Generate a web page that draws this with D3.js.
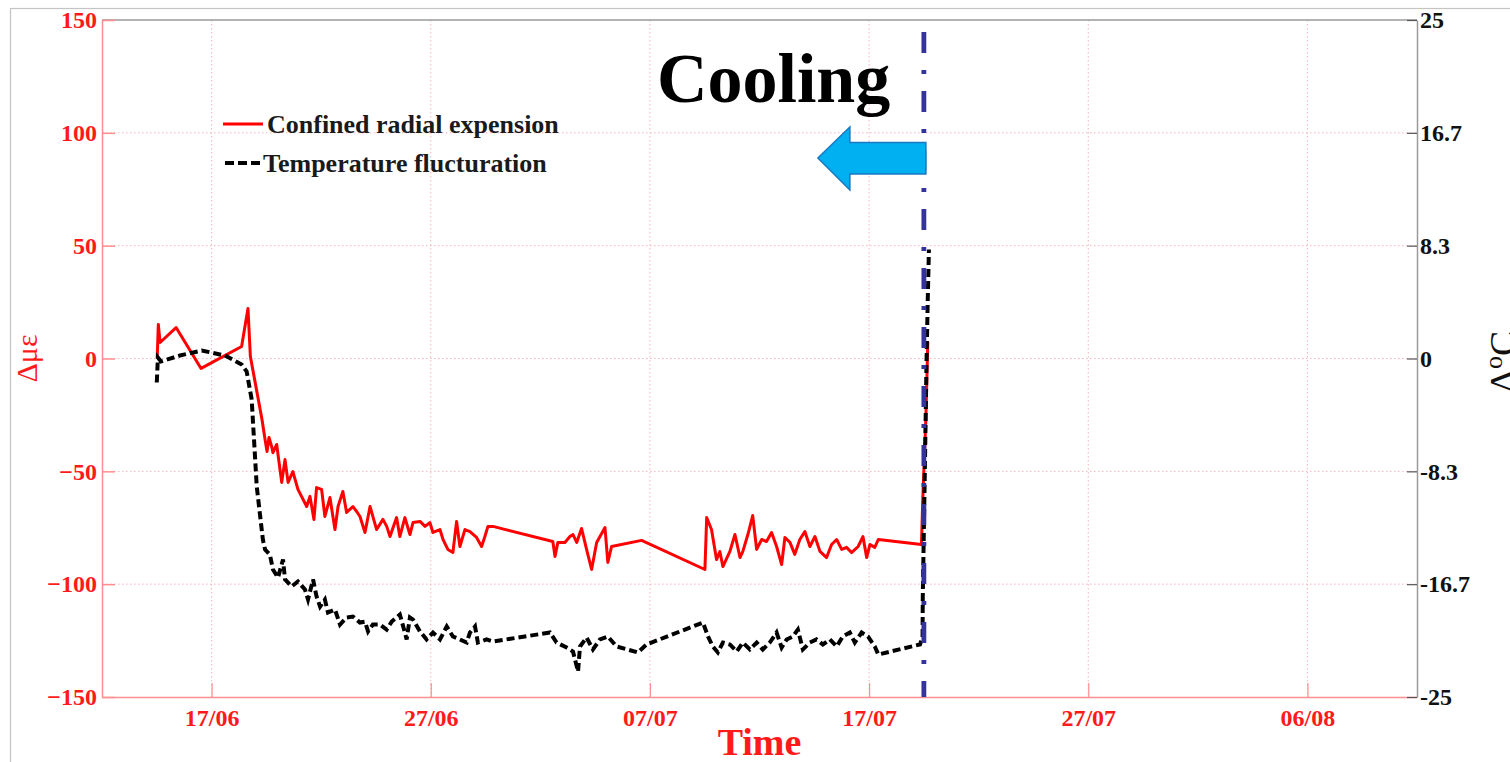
<!DOCTYPE html>
<html>
<head>
<meta charset="utf-8">
<script src="https://cdn.jsdelivr.net/npm/d3@7"></script>
<style>
  html, body { margin: 0; padding: 0; background: #fff; overflow: hidden; }
  svg { display: block; }
</style>
</head>
<body>
<svg id="chart" width="1510" height="762"></svg>
<script>
// Monitoring record: radial strain of the confined specimen and temperature change.
// Time is given in elapsed days since 12 June.
const recordStart = [2019, 5, 12];
const recordEnd = [2019, 7, 11];
const coolingDay = 37.5;

const strainDays = [2.52, 2.57, 2.65, 3.38, 4.52, 6.37, 6.66, 6.77, 7.30, 7.44, 7.53, 7.62, 7.74, 7.80, 7.97,
  8.20, 8.35, 8.49, 8.71, 8.94, 9.34, 9.49, 9.67, 9.79, 10.02, 10.17, 10.40, 10.63, 10.77, 10.99,
  11.16, 11.45, 11.62, 11.77, 12.00, 12.23, 12.53, 12.82, 12.99, 13.14, 13.44, 13.59, 13.82, 14.05,
  14.19, 14.51, 14.74, 14.96, 15.10, 15.42, 15.56, 15.78, 16.01, 16.18, 16.33, 16.56, 16.79, 17.09,
  17.32, 17.47, 17.61, 17.84, 20.57, 20.67, 20.80, 21.12, 21.35, 21.49, 21.66, 21.88, 22.11, 22.34,
  22.57, 22.95, 23.08, 23.25, 24.62, 27.51, 27.59, 27.81, 28.04, 28.19, 28.33, 28.65, 28.88, 29.11,
  29.24, 29.47, 29.69, 29.87, 30.10, 30.32, 30.55, 30.78, 31.01, 31.16, 31.39, 31.61, 31.84, 32.07,
  32.30, 32.53, 32.76, 33.06, 33.29, 33.52, 33.75, 33.97, 34.20, 34.50, 34.72, 34.89, 35.04, 35.26,
  35.42, 37.39, 37.45, 37.59, 37.68];
const strainValues = [0.4, 15.1, 7.1, 13.7, -4.4, 5.3, 22.2, 0.9, -27.0, -35.9, -41.2, -35.0, -39.0, -41.7, -38.1,
  -54.9, -44.8, -54.9, -50.1, -58.0, -65.6, -61.1, -71.3, -57.2, -58.0, -70.0, -61.6, -75.8, -65.6, -58.9,
  -68.2, -65.6, -67.8, -70.0, -77.1, -65.6, -75.8, -71.3, -74.4, -78.9, -70.5, -78.9, -70.5, -78.0,
  -72.7, -72.2, -74.4, -72.7, -77.1, -75.8, -80.2, -84.6, -86.0, -72.2, -83.3, -75.8, -76.7, -79.3,
  -83.3, -78.9, -74.4, -74.4, -81.1, -87.7, -81.5, -81.5, -78.9, -78.0, -81.5, -75.3, -84.6, -93.5,
  -81.5, -74.9, -90.4, -83.3, -80.6, -93.5, -70.5, -75.8, -89.1, -85.5, -92.2, -85.5, -78.0, -88.2,
  -85.5, -78.0, -69.6, -84.6, -80.2, -81.1, -77.1, -83.3, -91.3, -79.3, -81.5, -86.8, -80.2, -76.7,
  -83.3, -78.9, -85.5, -88.2, -82.4, -80.2, -84.6, -83.7, -86.0, -83.3, -78.9, -88.2, -82.4, -83.7,
  -80.2, -82.4, -62.5, -27.0, 7.5];

const tempDays = [2.50, 2.55, 2.69, 3.56, 4.55, 5.61, 6.37, 6.60, 6.83, 7.06, 7.34, 7.44, 7.66, 7.80, 8.03,
  8.26, 8.35, 8.65, 8.94, 9.26, 9.40, 9.63, 9.79, 9.95, 10.17, 10.31, 10.63, 10.86, 11.16, 11.45,
  11.77, 12.00, 12.14, 12.36, 12.68, 12.99, 13.22, 13.59, 13.82, 13.90, 14.05, 14.19, 14.51, 14.81,
  15.10, 15.42, 15.73, 16.01, 16.33, 16.64, 16.79, 17.02, 17.15, 17.55, 17.84, 20.44, 20.74, 21.20,
  21.49, 21.72, 21.81, 22.11, 22.40, 22.72, 23.08, 23.48, 24.45, 24.85, 27.42, 27.65, 27.87, 28.10,
  28.33, 28.65, 28.96, 29.24, 29.56, 29.87, 30.15, 30.47, 30.78, 31.01, 31.24, 31.52, 31.75, 31.98,
  32.30, 32.60, 32.89, 33.21, 33.52, 33.80, 34.12, 34.35, 34.66, 34.95, 35.26, 35.42, 37.32, 37.44,
  37.45, 37.55, 37.62, 37.68, 37.73];
const tempValues = [-1.77, 0.07, -0.22, 0.22, 0.59, 0.22, -0.44, -0.96, -3.03, -9.45, -13.37, -14.11, -14.48, -15.58, -16.18,
  -14.85, -16.32, -16.84, -16.47, -17.06, -17.80, -16.32, -17.58, -18.32, -17.80, -18.76, -18.54, -19.65, -19.13, -19.06,
  -19.50, -19.43, -20.16, -19.65, -19.65, -20.02, -19.43, -18.91, -20.24, -20.75, -19.13, -19.28, -20.16, -20.75,
  -20.24, -20.75, -19.79, -20.53, -20.75, -20.98, -20.24, -19.79, -20.98, -20.75, -20.90, -20.24, -20.98, -21.35,
  -21.64, -23.12, -21.27, -20.61, -21.49, -20.75, -20.53, -21.27, -21.71, -21.12, -19.50, -20.53, -21.27, -21.71,
  -20.98, -21.12, -21.64, -20.98, -21.49, -20.98, -21.49, -20.98, -20.24, -21.35, -20.75, -20.53, -20.02, -21.49,
  -20.98, -20.75, -21.12, -20.75, -21.27, -20.53, -20.24, -20.98, -20.24, -20.53, -21.27, -21.86, -21.12, -20.61,
  -17.58, -7.68, -0.30, 4.58, 8.05];

const timeTicks = ["2019-06-17", "2019-06-27", "2019-07-07", "2019-07-17", "2019-07-27", "2019-08-06"];
const strainTicks = [-150, -100, -50, 0, 50, 100, 150];
const tempTicks = [-25, -50 / 3, -25 / 3, 0, 25 / 3, 50 / 3, 25];

const seriesNames = ["Confined radial expension", "Temperature flucturation"];

// ---- layout ----
const plot = { left: 102, right: 1417, top: 20, bottom: 697 };
const serif = "'Liberation Serif', 'Times New Roman', serif";
const svg = d3.select("#chart");

const t0 = new Date(...recordStart);
const atDay = d => new Date(t0.getTime() + d * 864e5);
const parseDay = d3.timeParse("%Y-%m-%d");

const x = d3.scaleTime().domain([t0, new Date(...recordEnd)]).range([plot.left, plot.right]);
const yStrain = d3.scaleLinear().domain([-150, 150]).range([plot.bottom, plot.top]);
const yTemp = d3.scaleLinear().domain([-25, 25]).range([plot.bottom, plot.top]);

// figure frame
svg.append("rect").attr("x", 10.5).attr("y", 8.5).attr("width", 1520).attr("height", 780)
  .attr("fill", "none").attr("stroke", "#c4c4c4").attr("stroke-width", 1.2);

// ---- grid ----
const grid = svg.append("g").attr("stroke", "#f7b3bb").attr("stroke-width", 1)
  .attr("stroke-dasharray", "1.5,2.5");
grid.selectAll("line.h").data(strainTicks.filter(v => v > -150 && v < 150)).join("line")
  .attr("x1", plot.left).attr("x2", plot.right)
  .attr("y1", d => yStrain(d)).attr("y2", d => yStrain(d));
grid.selectAll("line.v").data(timeTicks.map(parseDay)).join("line")
  .attr("x1", d => x(d)).attr("x2", d => x(d))
  .attr("y1", plot.top).attr("y2", plot.bottom);

// top border
svg.append("line").attr("x1", plot.left).attr("x2", plot.right)
  .attr("y1", plot.top).attr("y2", plot.top).attr("stroke", "#9a9a9a").attr("stroke-width", 1.5);

// ---- axes ----
const axisRed = "#ff8f8f";
const gLeft = svg.append("g").attr("transform", `translate(${plot.left},0)`)
  .call(d3.axisLeft(yStrain).tickValues(strainTicks).tickSizeInner(-13).tickSizeOuter(0).tickPadding(5));
gLeft.select(".domain").attr("stroke", axisRed).attr("stroke-width", 1.5);
gLeft.selectAll(".tick line").attr("stroke", axisRed).attr("stroke-width", 1.5);
gLeft.selectAll(".tick text").attr("fill", "#ff1a1a").attr("font-family", serif)
  .attr("font-weight", "bold").attr("font-size", 24);

const gBottom = svg.append("g").attr("transform", `translate(0,${plot.bottom})`)
  .call(d3.axisBottom(x).tickValues(timeTicks.map(parseDay)).tickFormat(d3.timeFormat("%d/%m"))
    .tickSizeInner(-14).tickSizeOuter(0).tickPadding(12));
gBottom.select(".domain").attr("stroke", axisRed).attr("stroke-width", 1.5);
gBottom.selectAll(".tick line").attr("stroke", axisRed).attr("stroke-width", 1.2);
gBottom.selectAll(".tick text").attr("fill", "#ff1a1a").attr("font-family", serif)
  .attr("font-weight", "bold").attr("font-size", 24);

const gRight = svg.append("g").attr("transform", `translate(${plot.right},0)`)
  .call(d3.axisRight(yTemp).tickValues(tempTicks).tickSizeInner(-10).tickSizeOuter(0).tickPadding(3)
    .tickFormat(d => String(Math.round(d * 10) / 10)));
gRight.select(".domain").attr("stroke", "#9a9a9a").attr("stroke-width", 1.5);
gRight.selectAll(".tick line").attr("stroke", "#555").attr("stroke-width", 1.2);
gRight.selectAll(".tick text").attr("fill", "#111").attr("font-family", serif)
  .attr("font-weight", "bold").attr("font-size", 24);

// axis titles
svg.append("text").attr("transform", `translate(37,${(plot.top + plot.bottom) / 2}) rotate(-90)`)
  .attr("text-anchor", "middle").attr("font-family", serif).attr("font-size", 30)
  .attr("fill", "#ff1a1a").text("Δμε");

// right-hand title runs past the figure edge
const tRight = svg.append("text")
  .attr("transform", `translate(1516,362) rotate(-90)`)
  .attr("text-anchor", "middle").attr("font-family", serif).attr("font-size", 38).attr("fill", "#111");
tRight.append("tspan").text("Δ");
tRight.append("tspan").attr("dy", -14).attr("font-size", 26).text("o");
tRight.append("tspan").attr("dy", 14).text("C");

svg.append("text").attr("x", (plot.left + plot.right) / 2).attr("y", 755)
  .attr("text-anchor", "middle").attr("font-family", serif).attr("font-weight", "bold")
  .attr("font-size", 38).attr("fill", "#ff1a1a").text("Time");

// ---- series ----
const strainData = strainDays.map((d, i) => ({ t: atDay(d), v: strainValues[i] }));
const tempData = tempDays.map((d, i) => ({ t: atDay(d), v: tempValues[i] }));

svg.append("path").datum(strainData)
  .attr("fill", "none").attr("stroke", "#ff0000").attr("stroke-width", 3)
  .attr("stroke-linejoin", "round")
  .attr("d", d3.line().x(d => x(d.t)).y(d => yStrain(d.v)));

svg.append("path").datum(tempData)
  .attr("fill", "none").attr("stroke", "#000").attr("stroke-width", 4)
  .attr("stroke-dasharray", "8,4")
  .attr("d", d3.line().x(d => x(d.t)).y(d => yTemp(d.v)));

// ---- cooling marker ----
const xc = x(atDay(coolingDay));
svg.append("line").attr("x1", xc).attr("x2", xc).attr("y1", 32).attr("y2", plot.bottom)
  .attr("stroke", "#33339a").attr("stroke-width", 4.8).attr("stroke-dasharray", "21,17,4,17");

const arrowY = 158;
const arrowPath = d3.path();
arrowPath.moveTo(xc + 2, arrowY - 15.5);
arrowPath.lineTo(xc - 74, arrowY - 15.5);
arrowPath.lineTo(xc - 74, arrowY - 31);
arrowPath.lineTo(xc - 106, arrowY);
arrowPath.lineTo(xc - 74, arrowY + 32);
arrowPath.lineTo(xc - 74, arrowY + 16);
arrowPath.lineTo(xc + 2, arrowY + 16);
arrowPath.closePath();
svg.append("path").attr("d", arrowPath.toString())
  .attr("fill", "#00b0f0").attr("stroke", "#1a78c2").attr("stroke-width", 1.5);

svg.append("text").attr("x", xc - 267).attr("y", 102)
  .attr("font-family", serif).attr("font-weight", "bold").attr("font-size", 70)
  .attr("fill", "#000").text("Cooling");

// ---- legend ----
const legend = svg.append("g").attr("font-family", serif).attr("font-weight", "bold")
  .attr("font-size", 26).attr("fill", "#1a1a1a");
legend.append("line").attr("x1", 223).attr("x2", 263).attr("y1", 124).attr("y2", 124)
  .attr("stroke", "#ff0000").attr("stroke-width", 3);
legend.append("text").attr("x", 267).attr("y", 133).text(seriesNames[0]);
legend.append("line").attr("x1", 225).attr("x2", 262).attr("y1", 163).attr("y2", 163)
  .attr("stroke", "#000").attr("stroke-width", 4).attr("stroke-dasharray", "9,4");
legend.append("text").attr("x", 263).attr("y", 172).text(seriesNames[1]);
</script>
</body>
</html>
